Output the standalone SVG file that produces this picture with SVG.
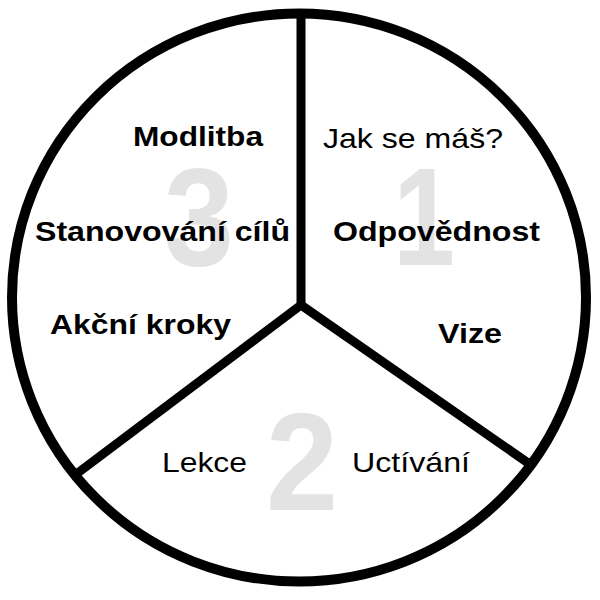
<svg xmlns="http://www.w3.org/2000/svg" width="600" height="600" viewBox="0 0 600 600">
<style>
.num{font-family:"Liberation Sans",Arial,sans-serif;font-weight:bold;font-size:140px;fill:#e3e3e3;text-anchor:middle}
.b{font-family:"Liberation Sans",Arial,sans-serif;font-weight:bold;font-size:28px;fill:#000}
.r{font-family:"Liberation Sans",Arial,sans-serif;font-size:28px;fill:#000}
.ln{stroke:#000;stroke-width:9;fill:none;stroke-linecap:butt}
</style>
<rect width="600" height="600" fill="#fff"/>
<g id="numbers">
<text class="num" x="424" y="265" textLength="62" lengthAdjust="spacingAndGlyphs">1</text>
<text class="num" x="302" y="510" textLength="72" lengthAdjust="spacingAndGlyphs">2</text>
<text class="num" x="199" y="265" textLength="70" lengthAdjust="spacingAndGlyphs">3</text>
</g>
<g id="outline">
<ellipse cx="299" cy="297.5" rx="287" ry="284" fill="none" stroke="#000" stroke-width="10"/>
</g>
<g id="connectors">
<line class="ln" x1="301" y1="305" x2="301" y2="13"/>
<line class="ln" x1="301" y1="305" x2="75" y2="475"/>
<line class="ln" x1="301" y1="305" x2="531" y2="465"/>
</g>
<g id="segment1">
<text class="r" x="323" y="148" textLength="180" lengthAdjust="spacingAndGlyphs">Jak se máš?</text>
<text class="b" x="333" y="241" textLength="207" lengthAdjust="spacingAndGlyphs">Odpovědnost</text>
<text class="b" x="438" y="343" textLength="64" lengthAdjust="spacingAndGlyphs">Vize</text>
</g>
<g id="segment2">
<text class="r" x="162" y="472" textLength="85" lengthAdjust="spacingAndGlyphs">Lekce</text>
<text class="r" x="352" y="472" textLength="118" lengthAdjust="spacingAndGlyphs">Uctívání</text>
</g>
<g id="segment3">
<text class="b" x="133" y="146" textLength="130" lengthAdjust="spacingAndGlyphs">Modlitba</text>
<text class="b" x="35" y="241" textLength="255" lengthAdjust="spacingAndGlyphs">Stanovování cílů</text>
<text class="b" x="50" y="334" textLength="181" lengthAdjust="spacingAndGlyphs">Akční kroky</text>
</g>
</svg>
